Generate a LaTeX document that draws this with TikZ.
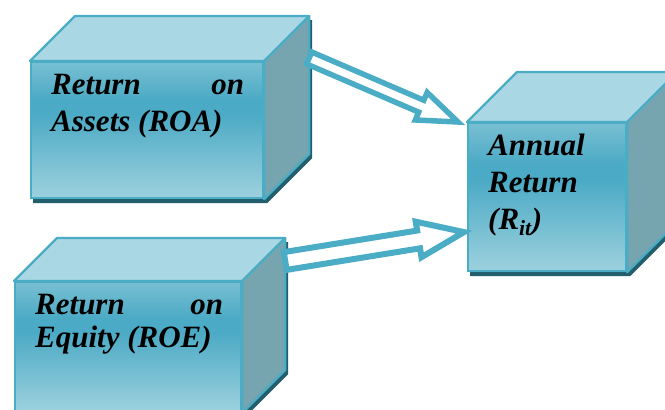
\documentclass[tikz,border=0pt]{standalone}
\usepackage{fontspec}
\newfontfamily\boxfont{Liberation Serif}
\usepackage{tikz}
\usetikzlibrary{calc}
\usetikzlibrary{positioning}
\usetikzlibrary{backgrounds}

\definecolor{cubeline}{HTML}{4BACC6}
\definecolor{topcol}{HTML}{A9D7E3}
\definecolor{sidecol}{HTML}{76A5B0}
\definecolor{shadowcol}{HTML}{235E6D}
\definecolor{facetop}{HTML}{78BFD2}
\definecolor{facemid}{HTML}{4BAAC5}
\definecolor{facebot}{HTML}{9DD1DE}

\pgfdeclareverticalshading{frontshade}{100bp}{color(0bp)=(facebot); color(25bp)=(facebot); color(56bp)=(facemid); color(61bp)=(facemid); color(75bp)=(facetop); color(100bp)=(facetop)}

\tikzset{
  frontface/.style={draw=cubeline, line width=2.2pt, shade, shading=frontshade, inner sep=0pt, anchor=north west},
  topface/.style={fill=topcol, draw=cubeline, line width=2.2pt, line join=round},
  sideface/.style={fill=sidecol, draw=cubeline, line width=2.2pt, line join=round},
  cubeshadow/.style={fill=shadowcol},
  boxtext/.style={anchor=north west, inner sep=0pt, align=left, font=\boxfont\bfseries\itshape\fontsize{31}{37}\selectfont},
  hollow/.style={draw=cubeline, fill=white, line width=#1, line join=miter},
  hollow/.default=5pt
}

% tail, tip, shaft half width, head half width, head length
\newcommand{\hollowarrow}[6][5pt]{%
  \coordinate (neck) at ($(#3)!#6!(#2)$);
  \draw[hollow=#1] ($(#2)!#4!90:(#3)$) -- ($(neck)!#4!90:(#3)$) -- ($(neck)!#5!90:(#3)$)
    -- (#3) -- ($(neck)!#5!-90:(#3)$) -- ($(neck)!#4!-90:(#3)$) -- ($(#2)!#4!-90:(#3)$) -- cycle;
}

\begin{document}
\begin{tikzpicture}[x=1pt,y=-1pt]
  \clip (0,0) rectangle (665,410);
  % the three boxes
  \foreach \name/\px/\py/\w/\h/\d in {roa/30/61/232/136/45, roe/14/281/226/130/43, rit/467/122/158/148/50} {
    \node[frontface, minimum width=\w pt, minimum height=\h pt] (\name) at (\px,\py) {};
    \draw[topface] (\name.north west) -- ([shift={(\d,-\d)}]\name.north west)
      -- ([shift={(\d,-\d)}]\name.north east) -- (\name.north east) -- cycle;
    \draw[sideface] (\name.north east) -- ([shift={(\d,-\d)}]\name.north east)
      -- ([shift={(\d,-\d)}]\name.south east) -- (\name.south east) -- cycle;
    \begin{scope}[on background layer]
      \fill[cubeshadow] ([shift={(3,4)}]\name.south west) -- ([shift={(3,4)}]\name.north west)
        -- ([shift={(\d+3,4-\d)}]\name.north west) -- ([shift={(\d+3,4-\d)}]\name.north east)
        -- ([shift={(\d+3,4-\d)}]\name.south east) -- ([shift={(3,4)}]\name.south east) -- cycle;
    \end{scope}
  }

  \node[boxtext] (roatext) at ([shift={(21,13.3)}]roa.north west)
    {\makebox[193pt][s]{Return on}\\Assets (ROA)};
  \node[boxtext] (roetext) at ([shift={(21,13.3)}]roe.north west)
    {\makebox[188pt][s]{Return on}\\[-4pt]Equity (ROE)};
  \node[boxtext] (rittext) at ([shift={(21,11.3)}]rit.north west)
    {Annual\\Return\\(R\textsubscript{it})};

  % arrows into the annual return box
  \coordinate (roatail) at ([shift={(45,-3)}]roa.north east);
  \coordinate (roatip) at ([shift={(-9,0)}]rit.north west);
  \hollowarrow[5.5pt]{roatail}{roatip}{6.5pt}{15pt}{40pt}
  \coordinate (roetail) at ([shift={(43,-20)}]roe.north east);
  \coordinate (roetip) at ([shift={(-3,35)}]rit.west);
  \hollowarrow[6pt]{roetail}{roetip}{9pt}{18pt}{46pt}
\end{tikzpicture}
\end{document}
